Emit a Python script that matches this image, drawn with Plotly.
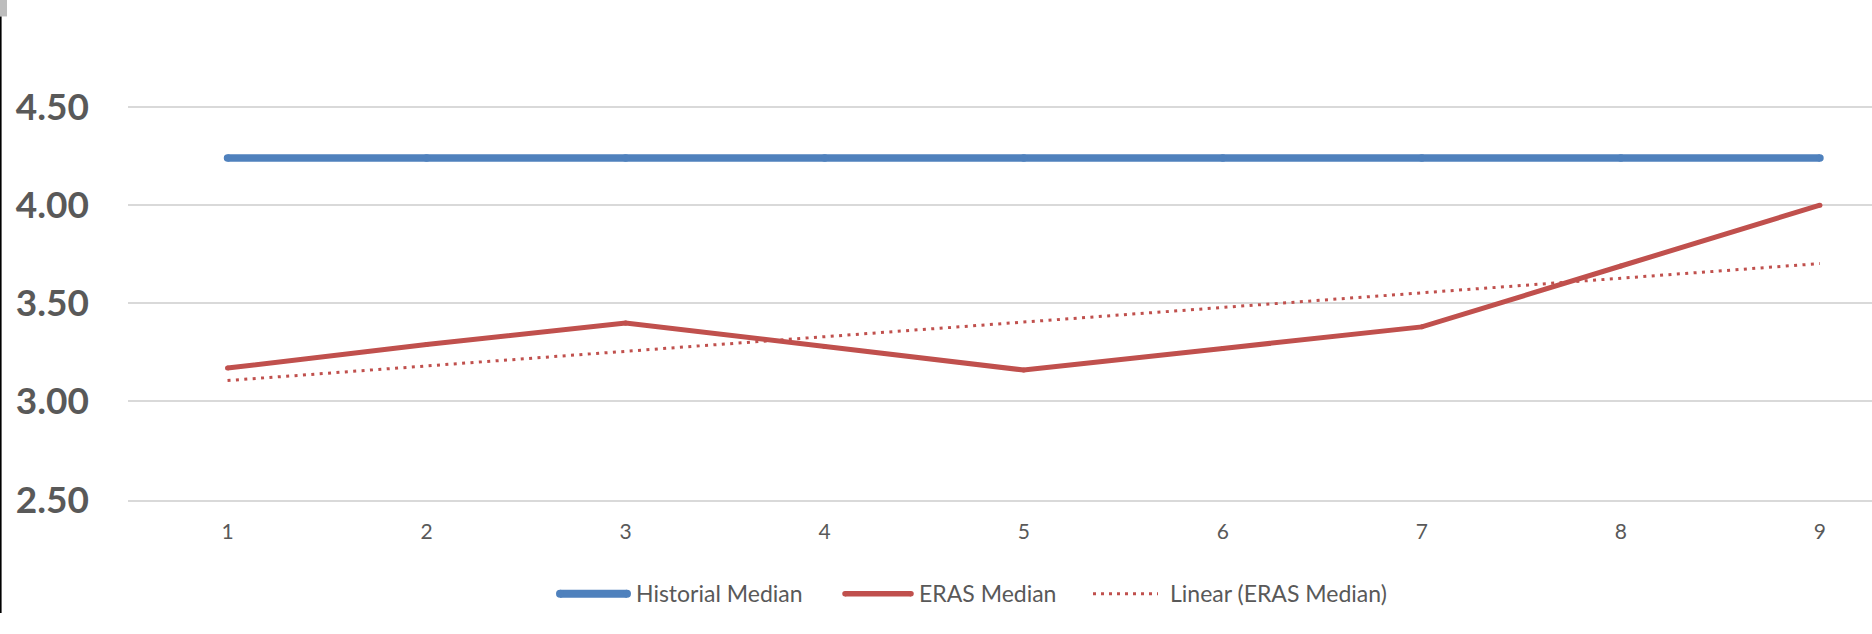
import numpy as np
import plotly.graph_objects as go

# ---- data ----
periods = [1, 2, 3, 4, 5, 6, 7, 8, 9]
historical_median = [4.24, 4.24, 4.24, 4.24, 4.24, 4.24, 4.24, 4.24, 4.24]
eras_median = [3.17, 3.29, 3.40, 3.28, 3.16, 3.27, 3.38, 3.69, 4.00]
y_tick_values = [2.5, 3.0, 3.5, 4.0, 4.5]
y_tick_labels = ["2.50", "3.00", "3.50", "4.00", "4.50"]
series_names = ["Historial Median", "ERAS Median", "Linear (ERAS Median)"]

# ---- styling ----
W, H = 1872, 634
BLUE = "#4f81bd"
RED = "#c0504d"
GRID = "#d9d9d9"
TEXT = "#595959"
FONT = "Lato"

# linear trend line fitted to the ERAS series
slope, intercept = np.polyfit(periods, eras_median, 1)
trend = [slope * p + intercept for p in periods]

# plot-area geometry in pixels
plot_left, plot_right = 128, W
plot_top, plot_bottom = 40, 516.7
cat_step = 199.05          # pixels per category
unit_px = 203.0            # pixels per y unit

x_range = [0.5, 0.5 + (plot_right - plot_left) / cat_step]
y_range = [2.5, 2.5 + (plot_bottom - plot_top) / unit_px]


def fx(px):
    return px / W


def fy(py):
    return 1 - py / H


fig = go.Figure()

fig.add_trace(go.Scatter(
    x=periods, y=historical_median, mode="lines+markers",
    name=series_names[0],
    line=dict(color=BLUE, width=7.5),
    marker=dict(color=BLUE, size=7.5, line=dict(width=0)),
    showlegend=False,
))
fig.add_trace(go.Scatter(
    x=periods, y=eras_median, mode="lines+markers",
    name=series_names[1],
    line=dict(color=RED, width=5),
    marker=dict(color=RED, size=5, line=dict(width=0)),
    showlegend=False,
))
fig.add_trace(go.Scatter(
    x=periods, y=trend, mode="lines",
    name=series_names[2],
    line=dict(color=RED, width=3, dash="3px,5.4px"),
    showlegend=False,
))

# ---- legend drawn below the plot ----
legend_y = 614
shapes = []
annotations = []


def swatch(x0, x1, color, width, dash="solid", round_ends=False):
    shapes.append(dict(
        type="line", xref="paper", yref="paper",
        x0=fx(x0), x1=fx(x1), y0=fy(legend_y), y1=fy(legend_y),
        line=dict(color=color, width=width, dash=dash), layer="above",
    ))
    if round_ends:
        r = width / 2
        for xc in (x0, x1):
            shapes.append(dict(
                type="circle", xref="paper", yref="paper",
                xsizemode="pixel", ysizemode="pixel",
                xanchor=fx(xc), yanchor=fy(legend_y),
                x0=-r, x1=r, y0=-r, y1=r,
                fillcolor=color, line=dict(width=0), layer="above",
            ))


def label(x, text):
    annotations.append(dict(
        xref="paper", yref="paper", x=fx(x), y=fy(legend_y - 1),
        xanchor="left", yanchor="middle", showarrow=False, text=text,
        font=dict(family=FONT, size=23, color=TEXT),
    ))


swatch(560, 627, BLUE, 8, round_ends=True)
label(634, series_names[0])
swatch(845, 911, RED, 5.5, round_ends=True)
label(917, series_names[1])
swatch(1093, 1158, RED, 3, dash="3px,5px")
label(1168, series_names[2])

# window frame edge on the left
shapes.append(dict(type="rect", xref="paper", yref="paper",
                   x0=0, x1=fx(7), y0=fy(17), y1=1,
                   fillcolor="#bdbdbd", line=dict(width=0)))
shapes.append(dict(type="line", xref="paper", yref="paper",
                   x0=fx(0.8), x1=fx(0.8), y0=0, y1=fy(17),
                   line=dict(color="#000000", width=1.6)))

fig.update_layout(
    width=W, height=H,
    margin=dict(l=0, r=0, t=0, b=0, pad=0),
    paper_bgcolor="white", plot_bgcolor="white",
    shapes=shapes, annotations=annotations,
    xaxis=dict(
        domain=[plot_left / W, plot_right / W],
        range=x_range, tickmode="array", tickvals=periods,
        ticktext=[str(p) for p in periods],
        showgrid=False, zeroline=False,
        showline=True, linecolor=GRID, linewidth=1.5,
        ticks="", ticklabelstandoff=12,
        tickfont=dict(family=FONT, size=21, color=TEXT),
    ),
    yaxis=dict(
        domain=[fy(plot_bottom), fy(plot_top)],
        range=y_range, tickmode="array", tickvals=y_tick_values,
        ticktext=y_tick_labels,
        showgrid=True, gridcolor=GRID, gridwidth=1.5,
        zeroline=False, showline=False, ticks="",
        ticklabelstandoff=38,
        tickfont=dict(family=FONT, size=37, color=TEXT, weight=700),
    ),
)

# keep the page exactly the size of the figure
fig.write_html(
    "out.html",
    config={"displayModeBar": False},
    post_script="document.body.style.margin='0';"
                "document.body.style.overflow='hidden';",
)
